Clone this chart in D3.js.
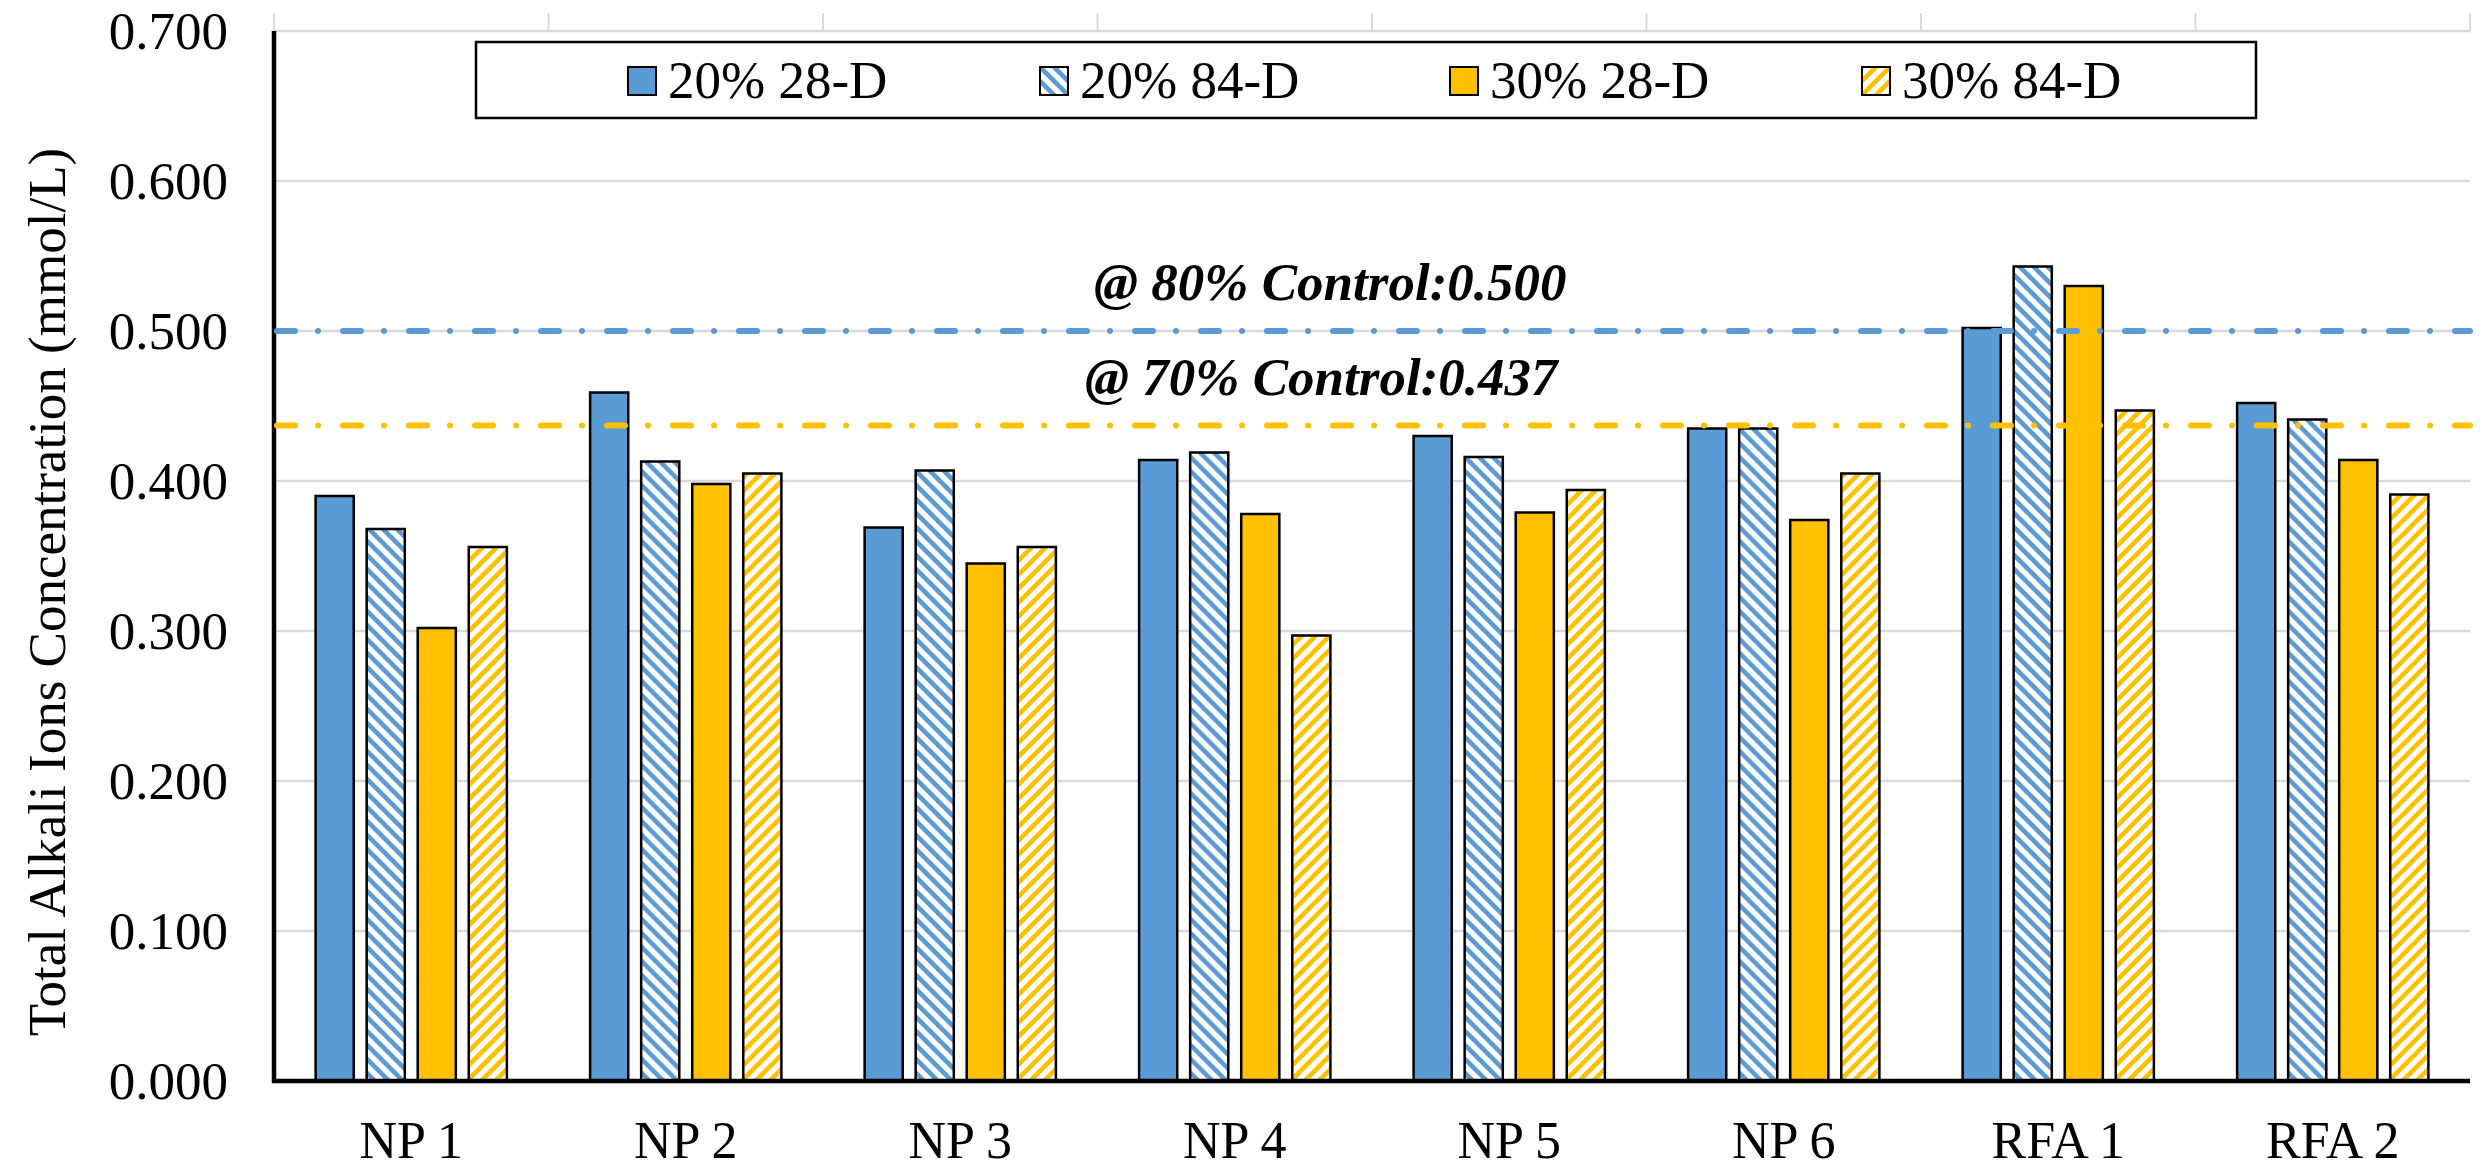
<!DOCTYPE html>
<html>
<head>
<meta charset="utf-8">
<script src="https://cdn.jsdelivr.net/npm/d3@7"></script>
<style>
  html, body { margin: 0; padding: 0; background: #fff; }
  svg { display: block; }
  text { font-family: "Liberation Serif", "Times New Roman", serif; fill: #000; }
</style>
</head>
<body>
<svg id="chart" width="2483" height="1168"></svg>
<script>
const categories = ["NP 1", "NP 2", "NP 3", "NP 4", "NP 5", "NP 6", "RFA 1", "RFA 2"];
const seriesNames = ["20% 28-D", "20% 84-D", "30% 28-D", "30% 84-D"];
const s20_28 = [0.390, 0.459, 0.369, 0.414, 0.430, 0.435, 0.502, 0.452];
const s20_84 = [0.368, 0.413, 0.407, 0.419, 0.416, 0.435, 0.543, 0.441];
const s30_28 = [0.302, 0.398, 0.345, 0.378, 0.379, 0.374, 0.530, 0.414];
const s30_84 = [0.356, 0.405, 0.356, 0.297, 0.394, 0.405, 0.447, 0.391];
const yTicks = [0, 0.1, 0.2, 0.3, 0.4, 0.5, 0.6, 0.7];
const refValues = [0.500, 0.437];
const refLabels = ["@ 80% Control:0.500", "@ 70% Control:0.437"];
const yTitle = "Total Alkali Ions Concentration (mmol/L)";

const seriesValues = [s20_28, s20_84, s30_28, s30_84];
const BLUE = "#5B9BD5", ORANGE = "#FFC000", GRID = "#D9D9D9";
const fills = ["url(#fillBlue)", "url(#hatchBlue)", "url(#fillOrange)", "url(#hatchOrange)"];

const svg = d3.select("#chart");
const X0 = 274, X1 = 2470, YTOP = 31, YBOT = 1081;

const x = d3.scaleBand().domain(categories).range([X0, X1]).paddingInner(0).paddingOuter(0);
const xs = d3.scaleBand().domain(d3.range(4)).range([0, x.bandwidth()]).paddingInner(0.253).paddingOuter(0.815);
const y = d3.scaleLinear().domain([0, 0.7]).range([YBOT, YTOP]);

// patterns
const defs = svg.append("defs");
function solid(id, color) {
  const p = defs.append("pattern").attr("id", id).attr("patternUnits", "userSpaceOnUse")
    .attr("width", 10).attr("height", 10);
  p.append("rect").attr("width", 10).attr("height", 10).attr("fill", color);
}
solid("fillBlue", BLUE);
solid("fillOrange", ORANGE);
function hatch(id, color, down) {
  const s = 14;
  const p = defs.append("pattern").attr("id", id).attr("patternUnits", "userSpaceOnUse")
    .attr("width", s).attr("height", s);
  p.append("rect").attr("width", s).attr("height", s).attr("fill", "#fff");
  const d = down
    ? `M${-s/2},${s/2} L${s/2},${s*1.5} M0,0 L${s},${s} M${s/2},${-s/2} L${s*1.5},${s/2}`
    : `M${-s/2},${s/2} L${s/2},${-s/2} M0,${s} L${s},0 M${s/2},${s*1.5} L${s*1.5},${s/2}`;
  p.append("path").attr("d", d).attr("stroke", color).attr("stroke-width", 4.6).attr("fill", "none");
}
hatch("hatchBlue", BLUE, true);
hatch("hatchOrange", ORANGE, false);

// top category boundary ticks
svg.append("g").selectAll("line").data(d3.range(categories.length + 1)).join("line")
  .attr("x1", i => X0 + i * x.bandwidth()).attr("x2", i => X0 + i * x.bandwidth())
  .attr("y1", 13).attr("y2", YTOP)
  .attr("stroke", GRID).attr("stroke-width", 2);

// gridlines
svg.append("g").selectAll("line").data(yTicks.filter(t => t > 0)).join("line")
  .attr("x1", X0).attr("x2", X1)
  .attr("y1", d => y(d)).attr("y2", d => y(d))
  .attr("stroke", GRID).attr("stroke-width", 2.5);

// y tick labels
svg.append("g").selectAll("text").data(yTicks).join("text")
  .attr("x", 228).attr("y", d => y(d) + 18)
  .attr("text-anchor", "end").attr("font-size", 53)
  .text(d => d3.format(".3f")(d));

// bars
const groups = svg.append("g").selectAll("g").data(categories).join("g")
  .attr("transform", c => `translate(${x(c)},0)`);
groups.selectAll("rect").data((c, ci) => seriesValues.map((vals, si) => ({ si, v: vals[ci] }))).join("rect")
  .attr("x", d => xs(d.si)).attr("width", xs.bandwidth())
  .attr("y", d => y(d.v)).attr("height", d => y(0) - y(d.v))
  .attr("fill", d => fills[d.si])
  .attr("stroke", "#000").attr("stroke-width", 2.5);

// axes lines
svg.append("line").attr("x1", X0).attr("x2", X0).attr("y1", YTOP).attr("y2", YBOT + 2)
  .attr("stroke", "#000").attr("stroke-width", 4.5);
svg.append("line").attr("x1", X0 - 2).attr("x2", X1).attr("y1", YBOT).attr("y2", YBOT)
  .attr("stroke", "#000").attr("stroke-width", 4.5);

// category labels
svg.append("g").selectAll("text").data(categories).join("text")
  .attr("x", c => x(c) + x.bandwidth() / 2).attr("y", 1158)
  .attr("text-anchor", "middle").attr("font-size", 52)
  .text(c => c);

// reference lines
const refColors = [BLUE, ORANGE];
svg.append("g").selectAll("line").data(refValues).join("line")
  .attr("x1", X0 + 3).attr("x2", X1)
  .attr("y1", d => y(d)).attr("y2", d => y(d))
  .attr("stroke", (d, i) => refColors[i]).attr("stroke-width", 6)
  .attr("stroke-linecap", "round").attr("stroke-dasharray", "18,23,0,25");

// reference labels
const refLabelX = [1094, 1085];
svg.append("g").selectAll("text").data(refValues).join("text")
  .attr("x", (d, i) => refLabelX[i]).attr("y", d => y(d) - 31)
  .attr("font-size", 53).attr("font-weight", "bold").attr("font-style", "italic")
  .text((d, i) => refLabels[i]);

// legend
const leg = svg.append("g");
leg.append("rect").attr("x", 476).attr("y", 42).attr("width", 1780).attr("height", 76)
  .attr("fill", "#fff").attr("stroke", "#000").attr("stroke-width", 2.5);
const legX = [628, 1040, 1450, 1862];
const li = leg.selectAll("g").data(seriesNames).join("g")
  .attr("transform", (d, i) => `translate(${legX[i]},67)`);
li.append("rect").attr("width", 28).attr("height", 28)
  .attr("fill", (d, i) => fills[i]).attr("stroke", "#000").attr("stroke-width", 2);
li.append("text").attr("x", 40).attr("y", 31).attr("font-size", 53).text(d => d);

// y-axis title
svg.append("text")
  .attr("transform", `translate(65,592) rotate(-90)`)
  .attr("text-anchor", "middle").attr("font-size", 53)
  .text(yTitle);
</script>
</body>
</html>
